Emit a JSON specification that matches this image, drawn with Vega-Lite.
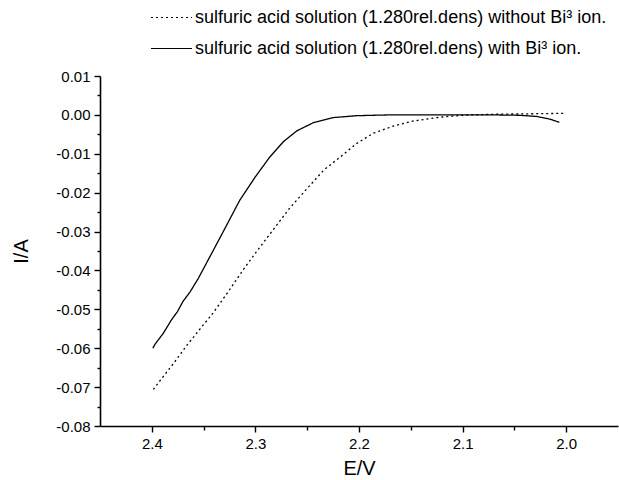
{
  "$schema": "https://vega.github.io/schema/vega-lite/v6.json",
  "autosize": {"type": "none"},
  "padding": {"left": 100, "top": 76, "right": 1, "bottom": 54},
  "width": 518,
  "height": 350,
  "background": "white",
  "config": {
    "view": {"stroke": null},
    "font": "Liberation Sans",
    "axis": {
      "labelFont": "Liberation Sans",
      "labelFontSize": 15,
      "labelColor": "black",
      "titleFont": "Liberation Sans",
      "titleFontSize": 20,
      "titleFontWeight": "normal",
      "titleColor": "black",
      "domainColor": "black",
      "domainWidth": 1.6,
      "tickColor": "black",
      "tickWidth": 1.4,
      "grid": false
    }
  },
  "data": {
    "values": [
      {"E": 2.3985, "I": -0.0706, "s": "sulfuric acid solution (1.280rel.dens) without Bi³ ion."},
      {"E": 2.389, "I": -0.0673, "s": "sulfuric acid solution (1.280rel.dens) without Bi³ ion."},
      {"E": 2.379, "I": -0.0639, "s": "sulfuric acid solution (1.280rel.dens) without Bi³ ion."},
      {"E": 2.366, "I": -0.0592, "s": "sulfuric acid solution (1.280rel.dens) without Bi³ ion."},
      {"E": 2.353, "I": -0.0549, "s": "sulfuric acid solution (1.280rel.dens) without Bi³ ion."},
      {"E": 2.341, "I": -0.0510, "s": "sulfuric acid solution (1.280rel.dens) without Bi³ ion."},
      {"E": 2.325, "I": -0.0450, "s": "sulfuric acid solution (1.280rel.dens) without Bi³ ion."},
      {"E": 2.312, "I": -0.0399, "s": "sulfuric acid solution (1.280rel.dens) without Bi³ ion."},
      {"E": 2.299, "I": -0.0352, "s": "sulfuric acid solution (1.280rel.dens) without Bi³ ion."},
      {"E": 2.283, "I": -0.0296, "s": "sulfuric acid solution (1.280rel.dens) without Bi³ ion."},
      {"E": 2.267, "I": -0.0240, "s": "sulfuric acid solution (1.280rel.dens) without Bi³ ion."},
      {"E": 2.250, "I": -0.0189, "s": "sulfuric acid solution (1.280rel.dens) without Bi³ ion."},
      {"E": 2.234, "I": -0.0142, "s": "sulfuric acid solution (1.280rel.dens) without Bi³ ion."},
      {"E": 2.218, "I": -0.0108, "s": "sulfuric acid solution (1.280rel.dens) without Bi³ ion."},
      {"E": 2.202, "I": -0.0073, "s": "sulfuric acid solution (1.280rel.dens) without Bi³ ion."},
      {"E": 2.186, "I": -0.0047, "s": "sulfuric acid solution (1.280rel.dens) without Bi³ ion."},
      {"E": 2.167, "I": -0.0029, "s": "sulfuric acid solution (1.280rel.dens) without Bi³ ion."},
      {"E": 2.148, "I": -0.0016, "s": "sulfuric acid solution (1.280rel.dens) without Bi³ ion."},
      {"E": 2.128, "I": -0.0008, "s": "sulfuric acid solution (1.280rel.dens) without Bi³ ion."},
      {"E": 2.110, "I": -0.0003, "s": "sulfuric acid solution (1.280rel.dens) without Bi³ ion."},
      {"E": 2.093, "I": 0.0000, "s": "sulfuric acid solution (1.280rel.dens) without Bi³ ion."},
      {"E": 2.061, "I": 0.0002, "s": "sulfuric acid solution (1.280rel.dens) without Bi³ ion."},
      {"E": 2.030, "I": 0.0003, "s": "sulfuric acid solution (1.280rel.dens) without Bi³ ion."},
      {"E": 2.000, "I": 0.0004, "s": "sulfuric acid solution (1.280rel.dens) without Bi³ ion."},
      {"E": 2.399, "I": -0.0600, "s": "sulfuric acid solution (1.280rel.dens) with Bi³ ion."},
      {"E": 2.397, "I": -0.0590, "s": "sulfuric acid solution (1.280rel.dens) with Bi³ ion."},
      {"E": 2.389, "I": -0.0562, "s": "sulfuric acid solution (1.280rel.dens) with Bi³ ion."},
      {"E": 2.381, "I": -0.0527, "s": "sulfuric acid solution (1.280rel.dens) with Bi³ ion."},
      {"E": 2.375, "I": -0.0505, "s": "sulfuric acid solution (1.280rel.dens) with Bi³ ion."},
      {"E": 2.370, "I": -0.0480, "s": "sulfuric acid solution (1.280rel.dens) with Bi³ ion."},
      {"E": 2.363, "I": -0.0455, "s": "sulfuric acid solution (1.280rel.dens) with Bi³ ion."},
      {"E": 2.355, "I": -0.0420, "s": "sulfuric acid solution (1.280rel.dens) with Bi³ ion."},
      {"E": 2.344, "I": -0.0365, "s": "sulfuric acid solution (1.280rel.dens) with Bi³ ion."},
      {"E": 2.331, "I": -0.0300, "s": "sulfuric acid solution (1.280rel.dens) with Bi³ ion."},
      {"E": 2.315, "I": -0.0219, "s": "sulfuric acid solution (1.280rel.dens) with Bi³ ion."},
      {"E": 2.300, "I": -0.0159, "s": "sulfuric acid solution (1.280rel.dens) with Bi³ ion."},
      {"E": 2.286, "I": -0.0108, "s": "sulfuric acid solution (1.280rel.dens) with Bi³ ion."},
      {"E": 2.273, "I": -0.0069, "s": "sulfuric acid solution (1.280rel.dens) with Bi³ ion."},
      {"E": 2.260, "I": -0.0041, "s": "sulfuric acid solution (1.280rel.dens) with Bi³ ion."},
      {"E": 2.244, "I": -0.0020, "s": "sulfuric acid solution (1.280rel.dens) with Bi³ ion."},
      {"E": 2.225, "I": -0.0007, "s": "sulfuric acid solution (1.280rel.dens) with Bi³ ion."},
      {"E": 2.202, "I": -0.0002, "s": "sulfuric acid solution (1.280rel.dens) with Bi³ ion."},
      {"E": 2.170, "I": 0.0000, "s": "sulfuric acid solution (1.280rel.dens) with Bi³ ion."},
      {"E": 2.120, "I": 0.0000, "s": "sulfuric acid solution (1.280rel.dens) with Bi³ ion."},
      {"E": 2.070, "I": 0.0000, "s": "sulfuric acid solution (1.280rel.dens) with Bi³ ion."},
      {"E": 2.045, "I": -0.0001, "s": "sulfuric acid solution (1.280rel.dens) with Bi³ ion."},
      {"E": 2.0285, "I": -0.0004, "s": "sulfuric acid solution (1.280rel.dens) with Bi³ ion."},
      {"E": 2.0156, "I": -0.0011, "s": "sulfuric acid solution (1.280rel.dens) with Bi³ ion."},
      {"E": 2.0067, "I": -0.0019, "s": "sulfuric acid solution (1.280rel.dens) with Bi³ ion."}
    ]
  },
  "mark": {"type": "line", "strokeWidth": 1.3, "color": "black"},
  "encoding": {
    "x": {
      "field": "E",
      "type": "quantitative",
      "scale": {"domain": [1.95, 2.45], "reverse": true, "nice": false, "zero": false},
      "axis": {
        "title": "E/V",
        "values": [2.4, 2.35, 2.3, 2.25, 2.2, 2.15, 2.1, 2.05, 2.0],
        "labelExpr": "abs(datum.value*10 - round(datum.value*10)) < 0.001 ? format(datum.value, '.1f') : ''",
        "tickSize": {"condition": {"test": "abs(datum.value*10 - round(datum.value*10)) < 0.001", "value": 6}, "value": 4},
        "labelPadding": 4,
        "titlePadding": 7,
        "labelFlush": false
      }
    },
    "y": {
      "field": "I",
      "type": "quantitative",
      "scale": {"domain": [-0.08, 0.01], "nice": false, "zero": false},
      "axis": {
        "title": "I/A",
        "values": [-0.08, -0.075, -0.07, -0.065, -0.06, -0.055, -0.05, -0.045, -0.04, -0.035, -0.03, -0.025, -0.02, -0.015, -0.01, -0.005, 0, 0.005, 0.01],
        "labelExpr": "abs(datum.value*100 - round(datum.value*100)) < 0.001 ? replace(format(datum.value, '.2f'), '−', '-') : ''",
        "tickSize": {"condition": {"test": "abs(datum.value*100 - round(datum.value*100)) < 0.001", "value": 6}, "value": 3},
        "labelPadding": 4,
        "titlePadding": 24,
        "labelFlush": false
      }
    },
    "strokeDash": {
      "field": "s",
      "type": "nominal",
      "scale": {
        "domain": ["sulfuric acid solution (1.280rel.dens) without Bi³ ion.", "sulfuric acid solution (1.280rel.dens) with Bi³ ion."],
        "range": [[2, 3], [1, 0]]
      },
      "legend": {
        "orient": "none",
        "legendX": 50,
        "legendY": -80,
        "title": null,
        "symbolType": "stroke",
        "symbolSize": 1681,
        "symbolStrokeWidth": 1.2,
        "symbolStrokeColor": "black",
        "labelFont": "Liberation Sans",
        "labelFontSize": 18,
        "labelColor": "black",
        "labelLimit": 0,
        "labelOffset": 2,
        "rowPadding": -2
      }
    }
  }
}
